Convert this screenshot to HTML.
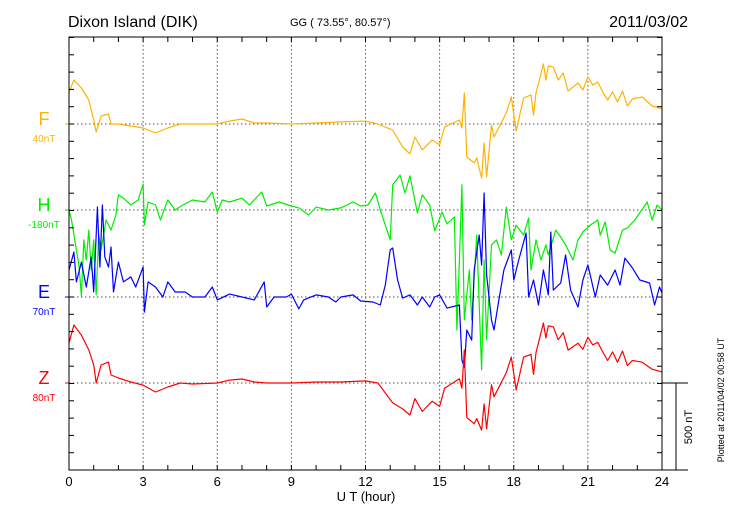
<!DOCTYPE html>
<html><head><meta charset="utf-8"><style>
html,body{margin:0;padding:0;background:#fff}
svg{display:block;font-family:"Liberation Sans",sans-serif}
</style></head><body>
<svg id="chart" width="730" height="520" viewBox="0 0 730 520" xmlns="http://www.w3.org/2000/svg">
<text x="68" y="27" font-size="16">Dixon Island (DIK)</text>
<text x="290" y="26" font-size="11">GG ( 73.55°,  80.57°)</text>
<text x="688" y="27" font-size="16" text-anchor="end">2011/03/02</text>
<text x="366" y="501" font-size="13" text-anchor="middle">U T (hour)</text>
<text transform="translate(724,400) rotate(-90)" font-size="9" text-anchor="middle">Plotted at 2011/04/02 00:58 UT</text>
<text transform="translate(692,427) rotate(-90)" font-size="11" text-anchor="middle">500 nT</text>
<g id="grid"></g><g id="series"></g><g id="axes"></g>
</svg>
<script>
const hoursTicks=[0,3,6,9,12,15,18,21,24];
const compNames=['F','H','E','Z'];
const compScales=['40nT','-180nT','70nT','80nT'];
const compColors=['#ffb300','#00ee00','#0000ff','#ff0000'];
const fT=[0,0.2,0.5,0.8,1.0,1.1,1.3,1.6,1.7,2,2.5,3,3.5,4,4.5,5,6,6.5,7,7.5,8,9,10,11,12,12.5,13.1,13.5,13.8,14.0,14.3,14.7,15.0,15.2,15.8,15.9,16.0,16.1,16.4,16.5,16.7,16.8,16.9,17.1,17.2,17.7,17.9,18.1,18.4,18.7,18.8,18.9,19.2,19.3,19.4,19.6,19.8,20.0,20.2,20.6,20.8,21.0,21.2,21.4,21.6,21.8,22.0,22.2,22.4,22.6,22.8,23.2,23.6,24];
const fV=[185,254,208,139,23,-46,46,58,0,0,-12,-23,-52,-23,0,0,0,17,29,6,6,0,6,12,17,0,-35,-133,-173,-75,-150,-92,-121,-17,23,-23,179,-191,-225,-196,-312,-110,-306,-6,-75,64,156,-40,150,168,52,179,347,254,335,329,254,295,191,237,197,272,225,243,185,139,185,127,191,104,145,156,104,87];
const zV=[231,335,277,191,104,0,104,121,46,29,6,-12,-52,-23,0,-6,0,17,23,6,0,0,6,6,12,0,-115,-150,-185,-90,-165,-105,-135,-30,25,-30,190,-200,-235,-205,-272,-120,-265,-10,-80,60,150,-40,150,165,50,175,347,260,330,325,250,290,190,230,195,265,220,235,180,130,180,120,185,100,130,120,80,64];
const hT=[0,0.1,0.3,0.4,0.5,0.6,0.7,0.8,0.9,1.0,1.1,1.2,1.3,1.5,1.7,1.9,2.0,2.2,2.5,2.8,3.0,3.05,3.2,3.5,3.7,4.0,4.3,4.6,5.0,5.5,5.8,6.0,6.2,6.5,7.0,7.3,7.8,8.0,8.5,9.0,9.3,9.7,10,10.5,11,11.5,11.8,12.1,12.4,12.6,13.0,13.1,13.4,13.6,13.8,14.1,14.3,14.6,14.8,15.1,15.3,15.6,15.7,15.8,15.9,16.0,16.2,16.3,16.5,16.7,16.8,16.9,17.1,17.3,17.5,17.7,17.9,18.1,18.4,18.6,18.7,18.9,19.1,19.3,19.4,19.7,19.9,20.1,20.4,20.6,20.8,21.1,21.4,21.5,21.7,21.9,22.1,22.4,22.6,22.9,23.4,23.6,23.8,24];
const hV=[0,-58,-231,-318,-497,-173,-289,-116,-347,-173,-491,-145,-231,-58,-116,-29,87,69,29,58,150,-87,46,29,-58,58,0,29,58,46,104,-12,58,46,69,29,104,23,46,23,12,-29,17,0,12,46,23,29,98,0,-173,145,202,98,197,-17,87,29,-121,-12,-81,-40,-694,-289,145,-636,-347,-636,-145,-925,-289,-751,-202,-173,-260,17,-173,-87,-145,-46,-347,-173,-289,-202,-260,-116,-156,-202,-289,-173,-127,-87,-58,-145,-69,-231,-249,-116,-104,-58,46,-58,29,0];
const eT=[0,0.2,0.3,0.5,0.7,0.9,1.0,1.15,1.25,1.35,1.45,1.6,1.7,1.8,2.0,2.2,2.5,2.7,3.0,3.05,3.2,3.5,3.8,4.0,4.3,4.7,5.0,5.5,5.8,6.0,6.5,7,7.5,7.9,8.0,8.3,8.8,9,9.3,9.5,10,10.5,10.8,11,11.5,11.8,12.3,12.6,12.8,13.0,13.1,13.3,13.5,13.8,14.1,14.3,14.6,14.8,15.0,15.3,15.8,15.9,16.0,16.1,16.3,16.4,16.6,16.7,16.8,16.9,17.1,17.2,17.4,17.6,17.9,18.0,18.2,18.5,18.6,18.8,19.0,19.2,19.4,19.5,19.6,19.9,20.1,20.3,20.6,20.8,21.0,21.3,21.5,21.8,22.1,22.3,22.5,22.8,23.1,23.5,23.7,23.9,24];
const eV=[156,260,87,202,58,231,29,520,173,532,231,173,289,29,202,87,116,58,173,-87,87,58,0,87,29,29,0,0,58,-17,17,0,-17,87,-58,0,0,17,-69,-17,12,0,-29,0,12,-23,-29,-46,69,272,283,98,-6,12,-46,0,-58,0,12,-64,-46,-364,-405,-191,-249,156,358,185,601,127,-133,-191,-17,156,272,98,214,370,0,98,-46,156,12,376,40,81,243,40,-58,98,185,0,127,69,156,69,225,168,98,81,-46,58,23];
const X0=69,X1=662,Y0=37,Y1=470;
const bases=[124,210,297,383];
const pxPerNT=86.5/500;
function xS(t){return X0+(X1-X0)*t/24;}
function yS(c,v){return bases[c]-v*pxPerNT;}
const NS='http://www.w3.org/2000/svg';
function mk(tag,attrs,parent){const e=document.createElementNS(NS,tag);for(const k in attrs)e.setAttribute(k,attrs[k]);parent.appendChild(e);return e;}
const grid=document.getElementById('grid'),axes=document.getElementById('axes'),ser=document.getElementById('series');
hoursTicks.forEach((h,i)=>{
 if(h>0&&h<24){const g=mk('line',{x1:xS(h),x2:xS(h),y1:Y0,y2:Y1,stroke:'#555','stroke-width':1,'stroke-dasharray':'1.5,2.5'},grid);
 
 }
 const t=mk('text',{x:xS(h),y:486,'font-size':13,'text-anchor':'middle'},axes);t.textContent=h;
 
 
});
bases.forEach((b,c)=>{
 const g=mk('line',{x1:X0,x2:X1,y1:b,y2:b,stroke:'#555','stroke-width':1,'stroke-dasharray':'1.5,2.5'},grid);
 
 
 const n=mk('text',{x:44,y:b+1,'font-size':18,'text-anchor':'middle',fill:compColors[c]},axes);n.textContent=compNames[c];
 
 
 const s=mk('text',{x:44,y:b+18,'font-size':10,'text-anchor':'middle',fill:compColors[c]},axes);s.textContent=compScales[c];
 
 
 mk('line',{x1:X0-4,x2:X0,y1:b,y2:b,stroke:compColors[c]},axes);
});
const frame=mk('rect',{x:X0,y:Y0,width:X1-X0,height:Y1-Y0,fill:'none',stroke:'#000','stroke-width':1},axes);


for(let h=1;h<24;h++){mk('line',{x1:xS(h),x2:xS(h),y1:Y0,y2:Y0+5,stroke:'#000'},axes);mk('line',{x1:xS(h),x2:xS(h),y1:Y1,y2:Y1-5,stroke:'#000'},axes);}
for(let y=bases[0]-5*17.3;y<Y1;y+=17.3){mk('line',{x1:X0,x2:X0+5,y1:y,y2:y,stroke:'#000'},axes);mk('line',{x1:X1,x2:X1-5,y1:y,y2:y,stroke:'#000'},axes);}
const sb=mk('g',{},axes);


mk('line',{x1:X1,x2:688,y1:383,y2:383,stroke:'#000'},sb);
mk('line',{x1:676,x2:676,y1:383,y2:470,stroke:'#000'},sb);
mk('line',{x1:X1,x2:688,y1:470,y2:470,stroke:'#000'},sb);
const data=[[fT,fV],[hT,hV],[eT,eV],[fT,zV]];
data.forEach((d,c)=>{
 const pts=d[0].map((t,i)=>xS(t).toFixed(1)+','+yS(c,d[1][i]).toFixed(1)).join(' ');
 const p=mk('polyline',{points:pts,fill:'none',stroke:compColors[c],'stroke-width':1.2,'stroke-linejoin':'round'},ser);
 
 
});
</script>
</body></html>
